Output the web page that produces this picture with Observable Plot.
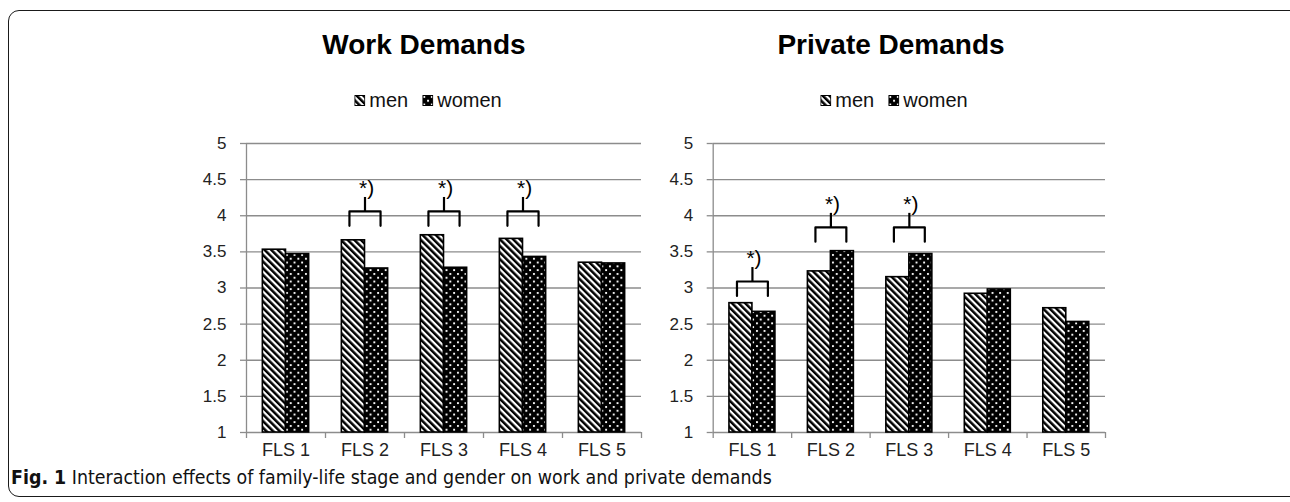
<!DOCTYPE html>
<html>
<head>
<meta charset="utf-8">
<script src="https://cdn.jsdelivr.net/npm/d3@7"></script>
<script src="https://cdn.jsdelivr.net/npm/@observablehq/plot@0.6"></script>
<style>
  html, body { margin: 0; padding: 0; background: #fff; }
  #root { position: relative; width: 1290px; height: 502px; overflow: hidden; background: #fff; font-family: "Liberation Sans", Arial, sans-serif; }
  #frame { position: absolute; left: 8px; top: 10px; width: 1310px; height: 487px; border: 1.6px solid #1a1a1a; border-radius: 11px; box-sizing: border-box; }
  .title { position: absolute; transform: translateX(-50%); font-weight: bold; font-size: 28px; line-height: 32px; color: #000; white-space: nowrap; }
  .legend { position: absolute; transform: translateX(-50%); font-size: 20px; line-height: 24px; color: #111; white-space: nowrap; display: flex; align-items: center; }
  .legend svg { margin-right: 4px; }
  .legend .item { display: flex; align-items: center; margin: 0 7px; }
  .panel { position: absolute; }
  #caption { position: absolute; left: 11px; top: 466px; font-family: "Liberation Sans Narrow", "DejaVu Sans Condensed", "Open Sans", sans-serif; font-stretch: condensed; font-size: 19.4px; color: #111; white-space: nowrap; }
  #caption b { font-weight: bold; }
</style>
</head>
<body>
<div id="root">
  <svg width="0" height="0" style="position:absolute">
    <defs>
      <pattern id="stripes" patternUnits="userSpaceOnUse" width="4.7" height="4.7" patternTransform="rotate(-45)">
        <rect width="4.7" height="4.7" fill="#fff"></rect>
        <rect width="2.5" height="4.7" fill="#000"></rect>
      </pattern>
      <pattern id="dots" patternUnits="userSpaceOnUse" width="7.6" height="7.6">
        <rect width="7.6" height="7.6" fill="#000"></rect>
        <rect x="1" y="1" width="1.9" height="1.9" fill="#fff"></rect>
        <rect x="4.8" y="4.8" width="1.9" height="1.9" fill="#fff"></rect>
      </pattern>
    </defs>
  </svg>
  <div id="frame"></div>
  <div class="title" style="left:424px; top:29px;">Work Demands</div>
  <div class="title" style="left:891px; top:29px;">Private Demands</div>
  <div class="legend" id="legL" style="left:428px; top:88px;"></div>
  <div class="legend" id="legR" style="left:894px; top:88px;"></div>
  <div class="panel" id="panelL" style="left:0px; top:120px;"></div>
  <div class="panel" id="panelR" style="left:660px; top:120px;"></div>
  <div id="caption"><b>Fig. 1</b> Interaction effects of family-life stage and gender on work and private demands</div>
</div>
<script>
// ---- data ----
const categories = ["FLS 1", "FLS 2", "FLS 3", "FLS 4", "FLS 5"];
const seriesNames = ["men", "women"];
const workMen = [3.53, 3.66, 3.73, 3.68, 3.35];
const workWomen = [3.47, 3.27, 3.28, 3.43, 3.34];
const privateMen = [2.79, 3.23, 3.15, 2.92, 2.72];
const privateWomen = [2.67, 3.51, 3.47, 2.98, 2.53];
// base level of significance brackets (null = no bracket)
const workSig = [null, 3.86, 3.86, 3.86, null];
const privateSig = [2.89, 3.64, 3.64, null, null];
const yTicks = [1, 1.5, 2, 2.5, 3, 3.5, 4, 4.5, 5];
const sigLabel = "*)";

const GRID = "#8c8c8c";
const FONT = "Liberation Sans, Arial, sans-serif";

function panel(men, women, sig, opts) {
  const idx = categories.map((d, i) => i);
  const half = 0.293;      // bar width (band fraction)
  const bw = 0.197;        // bracket half-width (band fraction)
  const bh = 0.2;          // bracket leg height (data units)
  const sigIdx = idx.filter(i => sig[i] != null);
  const bracket = sigIdx.flatMap(i => {
    const c = i + 0.5, b = sig[i];
    return [
      {k: i, x: c - bw, y: b}, {k: i, x: c - bw, y: b + bh},
      {k: i, x: c + bw, y: b + bh}, {k: i, x: c + bw, y: b}
    ];
  });
  return Plot.plot({
    width: opts.width,
    height: 360,
    marginLeft: opts.ml,
    marginRight: opts.mr,
    marginTop: 23,
    marginBottom: 48,
    style: {fontFamily: FONT, background: "transparent", overflow: "visible"},
    x: {type: "linear", domain: [0, categories.length], axis: null},
    y: {domain: [1, 5], axis: null},
    marks: [
      Plot.gridY(yTicks, {stroke: GRID, strokeOpacity: 1, strokeWidth: 1.3}),
      Plot.axisY(yTicks, {label: null, tickSize: 6, tickPadding: 14, stroke: GRID, strokeWidth: 1.3, fontSize: 17, fill: "#222", tickFormat: d => String(d)}),
      Plot.ruleX([0], {y1: 1, y2: 5, stroke: GRID, strokeWidth: 1.3}),
      Plot.axisX(d3.range(categories.length + 1), {label: null, tickSize: 6, stroke: GRID, strokeWidth: 1.3, tickFormat: () => ""}),
      Plot.rectY(idx, {x1: i => i + 0.5 - half, x2: i => i + 0.5, y1: 1, y2: i => men[i], fill: "url(#stripes)", stroke: "#000", strokeWidth: 1.6}),
      Plot.rectY(idx, {x1: i => i + 0.5, x2: i => i + 0.5 + half, y1: 1, y2: i => women[i], fill: "url(#dots)", stroke: "#000", strokeWidth: 1.6}),
      Plot.text(categories, {x: (d, i) => i + 0.5, y: 1, dy: 18, text: d => d, fontSize: 18, fill: "#222"}),
      Plot.line(bracket, {x: "x", y: "y", z: "k", stroke: "#000", strokeWidth: 2.2, curve: "linear"}),
      Plot.link(sigIdx, {x1: i => i + 0.5, x2: i => i + 0.5, y1: i => sig[i] + bh, y2: i => sig[i] + 2 * bh, stroke: "#000", strokeWidth: 2.2}),
      Plot.text(sigIdx, {x: i => i + 0.5, y: i => sig[i] + 2 * bh, text: () => sigLabel, textAnchor: "start", dx: -6, dy: -9, fontSize: 21, fill: "#000"})
    ]
  });
}

document.getElementById("panelL").appendChild(panel(workMen, workWomen, workSig, {width: 660, ml: 246, mr: 19}));
document.getElementById("panelR").appendChild(panel(privateMen, privateWomen, privateSig, {width: 470, ml: 52.7, mr: 25}));

function legend(el) {
  const fills = ["url(#stripes)", "url(#dots)"];
  seriesNames.forEach((name, i) => {
    const item = document.createElement("span");
    item.className = "item";
    item.innerHTML = `<svg width="11" height="11"><rect x="0.5" y="0.5" width="10" height="10" fill="${fills[i]}" stroke="#000" stroke-width="1"></rect></svg><span>${name}</span>`;
    el.appendChild(item);
  });
}
legend(document.getElementById("legL"));
legend(document.getElementById("legR"));
</script>
</body>
</html>
